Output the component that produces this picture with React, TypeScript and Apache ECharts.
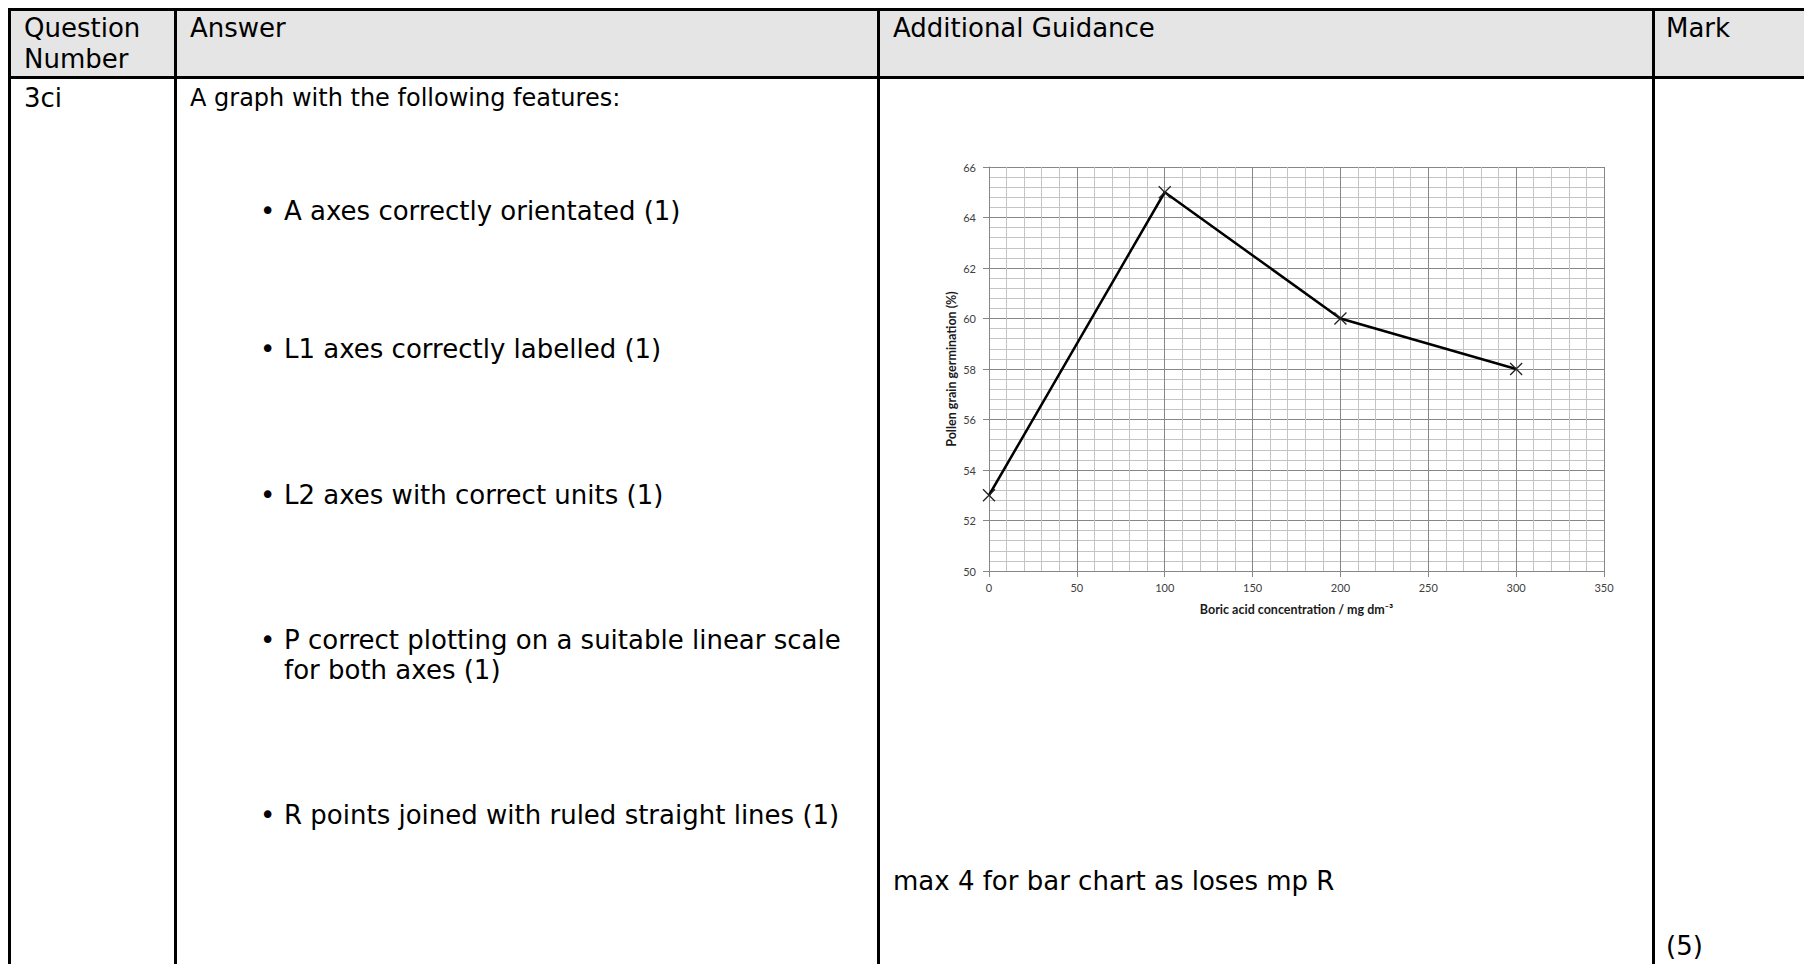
import React, { useEffect, useRef } from "react";
import * as echarts from "echarts";

// ---- data ----
const concentration = [0, 100, 200, 300];
const germination = [53, 65, 60, 58];
const xTitle = "Boric acid concentration / mg dm⁻³";
const yTitle = "Pollen grain germination (%)";

const headerTexts = ["Question", "Number", "Answer", "Additional Guidance", "Mark"];
const questionNumber = "3ci";
const answerIntro = "A graph with the following features:";
const bulletLines = [
  ["A axes correctly orientated (1)"],
  ["L1 axes correctly labelled (1)"],
  ["L2 axes with correct units (1)"],
  ["P correct plotting on a suitable linear scale", "for both axes (1)"],
  ["R points joined with ruled straight lines (1)"],
];
const guidanceNote = "max 4 for bar chart as loses mp R";
const markTotal = "(5)";

const FONT = '"DejaVu Sans", Verdana, sans-serif';
const FS = 26;
const CHART_FONT = "Lato, Calibri, sans-serif";

export default function App() {
  const ref = useRef<HTMLDivElement>(null);

  useEffect(() => {
    if (!ref.current) return;
    const chart = echarts.init(ref.current, undefined, { renderer: "svg" });

    const txt = (text: string, x: number, y: number, extra: any = {}) => ({
      type: "text",
      x,
      y,
      style: {
        text,
        fill: "#000",
        fontSize: FS,
        fontFamily: FONT,
        verticalAlign: "middle",
        textVerticalAlign: "middle",
        ...extra,
      },
    });
    const rect = (x: number, y: number, w: number, h: number, fill: string) => ({
      type: "rect",
      shape: { x, y, width: w, height: h },
      style: { fill },
    });

    const colX = [8, 174, 877, 1652];
    const lineW = 3;
    const graphics: any[] = [];
    graphics.push(rect(10, 10, 1800, 66, "#e5e5e5"));
    graphics.push(rect(8, 8, 1800, lineW, "#000"));
    graphics.push(rect(8, 76, 1800, lineW, "#000"));
    colX.forEach((x) => graphics.push(rect(x, 8, lineW, 970, "#000")));

    graphics.push(txt(headerTexts[0], 24, 28));
    graphics.push(txt(headerTexts[1], 24, 59));
    graphics.push(txt(headerTexts[2], 190, 28));
    graphics.push(txt(headerTexts[3], 893, 28));
    graphics.push(txt(headerTexts[4], 1666, 28));

    graphics.push(txt(questionNumber, 24, 98));
    graphics.push(txt(answerIntro, 190, 98, { fontSize: 24 }));

    const bulletY = [211, 349, 495, 640, 815];
    bulletLines.forEach((lines, i) => {
      graphics.push(txt("•", 260, bulletY[i]));
      lines.forEach((l, j) => graphics.push(txt(l, 284, bulletY[i] + j * 30)));
    });

    graphics.push(txt(guidanceNote, 893, 881));
    graphics.push(txt(markTotal, 1666, 946));

    const axisLabel = { fontFamily: CHART_FONT, fontSize: 11, color: "#404040" };
    const nameStyle = { fontFamily: CHART_FONT, fontSize: 12.5, fontWeight: "bold", color: "#1a1a1a" };
    const gridCommon = {
      splitLine: { show: true, lineStyle: { color: "#878787", width: 1 } },
      minorTick: { show: false, splitNumber: 5 },
      minorSplitLine: { show: true, lineStyle: { color: "#c4c4c4", width: 1 } },
      axisLine: { show: true, lineStyle: { color: "#878787", width: 1 } },
      axisTick: { show: true, inside: false, length: 6, lineStyle: { color: "#878787" } },
    };

    chart.setOption({
      animation: false,
      backgroundColor: "#fff",
      graphic: { elements: graphics },
      grid: { left: 989, top: 167, width: 615, height: 404, containLabel: false },
      xAxis: {
        type: "value",
        min: 0,
        max: 350,
        interval: 50,
        name: xTitle,
        nameLocation: "middle",
        nameGap: 32,
        nameTextStyle: nameStyle,
        axisLabel: { ...axisLabel, margin: 11 },
        ...gridCommon,
      },
      yAxis: {
        type: "value",
        min: 50,
        max: 66,
        interval: 2,
        name: yTitle,
        nameLocation: "middle",
        nameGap: 31,
        nameTextStyle: nameStyle,
        axisLabel: { ...axisLabel, margin: 13 },
        ...gridCommon,
      },
      series: [
        {
          type: "line",
          data: concentration.map((x, i) => [x, germination[i]]),
          lineStyle: { color: "#000", width: 2.5 },
          symbol: "path://M0,0L10,10M10,0L0,10",
          symbolSize: 12,
          showSymbol: true,
          itemStyle: { color: "rgba(0,0,0,0)", borderColor: "#222", borderWidth: 1.3 },
          z: 5,
        },
      ],
    });

    return () => chart.dispose();
  }, []);

  return (
    <div
      ref={ref}
      style={{ position: "fixed", left: 0, top: 0, width: 1804, height: 964, background: "#fff" }}
    />
  );
}
